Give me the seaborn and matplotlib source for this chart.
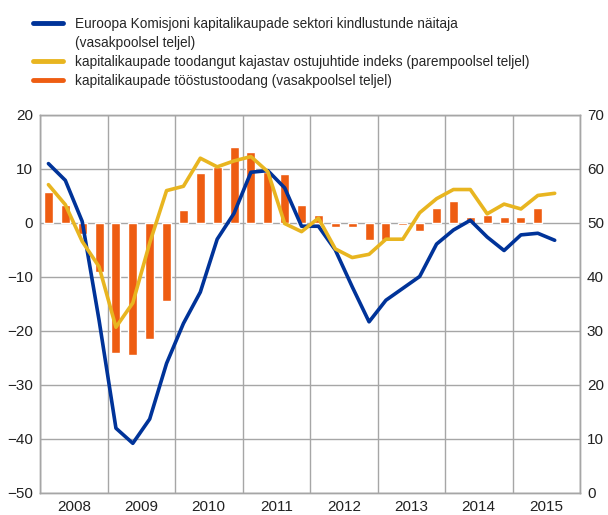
import matplotlib
matplotlib.use("Agg")
import matplotlib.pyplot as plt
from matplotlib import font_manager
from matplotlib.lines import Line2D
import seaborn as sns
import pandas as pd

years = [2008, 2009, 2010, 2011, 2012, 2013, 2014, 2015]

# quarterly values, Q1 2008 onwards
confidence = [11.0, 7.9, 0.3, -18.0, -38.0, -40.8, -36.3, -26.0,
              -18.6, -12.8, -3.0, 1.8, 9.4, 9.7, 6.5, -0.6,
              -0.6, -5.0, -11.8, -18.3, -14.3, -12.1, -9.9, -3.9,
              -1.3, 0.5, -2.6, -5.1, -2.2, -1.9, -3.2]
pmi = [57.1, 53.4, 46.6, 41.9, 30.7, 35.2, 46.3, 56.0,
       56.8, 62.0, 60.4, 61.5, 62.3, 59.5, 49.9, 48.4,
       50.9, 45.2, 43.6, 44.2, 47.0, 47.0, 51.9, 54.5,
       56.2, 56.2, 51.7, 53.5, 52.6, 55.1, 55.5]
production = [5.8, 3.4, -2.0, -9.1, -24.0, -24.4, -21.4, -14.4,
              2.4, 9.2, 10.3, 14.1, 13.2, 9.4, 9.0, 3.3,
              1.5, -0.8, -0.8, -3.2, -3.2, -0.3, -1.5, 2.8,
              4.1, 1.1, 1.5, 1.1, 1.1, 2.8]

labels = [
    "Euroopa Komisjoni kapitalikaupade sektori kindlustunde näitaja",
    "(vasakpoolsel teljel)",
    "kapitalikaupade toodangut kajastav ostujuhtide indeks (parempoolsel teljel)",
    "kapitalikaupade tööstustoodang (vasakpoolsel teljel)",
]

BLUE = "#003399"
YELLOW = "#E8B520"
ORANGE = "#EE5D12"
GRID = "#a6a6a6"

lines_df = pd.DataFrame({"q": range(len(confidence)), "conf": confidence, "pmi": pmi})
bars_df = pd.DataFrame({"q": range(len(production)), "prod": production})

sns.set_theme(style="white")
plt.rcParams["font.family"] = ["Liberation Sans", "DejaVu Sans"]

# legend text in the reference is a bit condensed
names = {f.name for f in font_manager.fontManager.ttflist}
if "Liberation Sans Narrow" in names:
    leg_font = {"family": ["Liberation Sans Narrow", "DejaVu Sans"], "size": 11.6}
else:
    leg_font = {"family": ["Liberation Sans", "DejaVu Sans"], "size": 9.8}

fig = plt.figure(figsize=(6.08, 5.15), dpi=100)
ax = fig.add_axes([40 / 608, 1 - 493 / 515, 540 / 608, 378 / 515])

sns.barplot(data=bars_df, x="q", y="prod", native_scale=True, color=ORANGE,
            saturation=1, width=0.53, ax=ax, zorder=2)
sns.lineplot(data=lines_df, x="q", y="conf", color=BLUE, linewidth=2.6, ax=ax, zorder=3)

ax2 = ax.twinx()
sns.lineplot(data=lines_df, x="q", y="pmi", color=YELLOW, linewidth=2.6, ax=ax2, zorder=3)

n_q = len(years) * 4
ax.set_xlim(-0.5, n_q - 0.5)
ax.set_ylim(-50, 20)
ax2.set_ylim(0, 70)
ax.set_yticks(range(-50, 21, 10))
ax2.set_yticks(range(0, 71, 10))

ax.set_xticks([i * 4 + 1.5 for i in range(len(years))])
ax.set_xticklabels([str(y) for y in years])
ax.set_xticks([i * 4 - 0.5 for i in range(len(years) + 1)], minor=True)
ax.tick_params(axis="x", which="major", length=0, pad=5, labelsize=11, colors="#222222")
ax.tick_params(axis="x", which="minor", length=6, width=1, color=GRID, direction="out")
ax.tick_params(axis="y", length=0, pad=5, labelsize=11, colors="#222222")
ax2.tick_params(axis="y", length=0, pad=5, labelsize=11, colors="#222222")

ax.set_axisbelow(True)
ax.grid(True, axis="y", color=GRID, linewidth=1)
ax.grid(True, axis="x", which="minor", color=GRID, linewidth=1)
ax.grid(False, axis="x", which="major")
ax.set_xlabel("")
ax.set_ylabel("")
ax2.set_ylabel("")
for a in (ax, ax2):
    for s in a.spines.values():
        s.set_color(GRID)
        s.set_linewidth(1)

handles = [Line2D([], [], color=BLUE, lw=3.5),
           Line2D([], [], color="none", lw=3.5),
           Line2D([], [], color=YELLOW, lw=3.5),
           Line2D([], [], color=ORANGE, lw=3.5)]
fig.legend(handles, labels, loc="upper left", bbox_to_anchor=(33 / 608, 1 - 17 / 515),
           frameon=False, prop=leg_font, handlelength=2.2, handletextpad=0.9,
           labelspacing=0.36, borderpad=0, borderaxespad=0)

fig.savefig("out.png", dpi=100)
